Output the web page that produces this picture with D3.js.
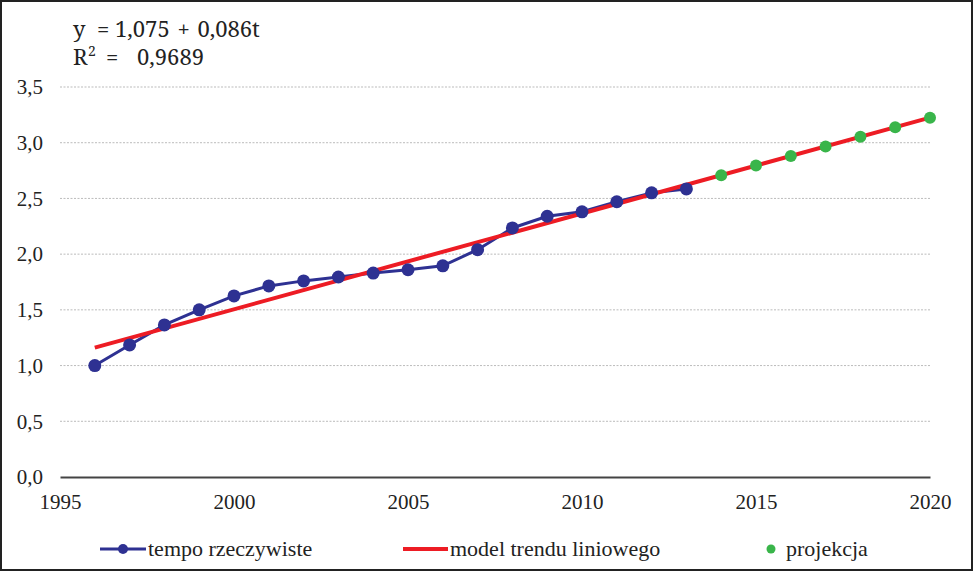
<!DOCTYPE html>
<html><head><meta charset="utf-8">
<script src="https://cdn.jsdelivr.net/npm/d3@7"></script>
<style>body{margin:0;background:#fff}svg{display:block}</style>
</head><body>
<svg id="c" width="974" height="572"></svg>
<script>
const actualYears = [1996,1997,1998,1999,2000,2001,2002,2003,2004,2005,2006,2007,2008,2009,2010,2011,2012,2013];
const actualValues = [1.00,1.185,1.365,1.50,1.625,1.715,1.76,1.795,1.83,1.86,1.895,2.04,2.235,2.34,2.38,2.47,2.55,2.585];
const projYears = [2014,2015,2016,2017,2018,2019,2020];
const projValues = [2.709,2.795,2.881,2.967,3.053,3.139,3.225];
const trendYears = [1996,2020];
const trendValues = [1.161,3.225];
const xTicks = [1995,2000,2005,2010,2015,2020];
const yTicks = [0,0.5,1,1.5,2,2.5,3,3.5];
const legendLabels = ["tempo rzeczywiste","model trendu liniowego","projekcja"];

const svg = d3.select("#c");
const fmt = v => d3.format(".1f")(v).replace(".", ",");
const x = d3.scaleLinear().domain([1995,2020]).range([60,930]);
const y = d3.scaleLinear().domain([0,3.5]).range([477,87]);
const blue="#2E3192", red="#ED1C24", green="#39B54A";
const serif = "'Liberation Serif'";

svg.append("rect").attr("x",1).attr("y",1).attr("width",971).attr("height",569)
  .attr("fill","none").attr("stroke","#222").attr("stroke-width",2);

// gridlines
svg.append("g").selectAll("line").data(yTicks.filter(d=>d>0)).join("line")
  .attr("x1",x(1995)).attr("x2",x(2020)).attr("y1",d=>y(d)).attr("y2",d=>y(d))
  .attr("stroke","#bbb").attr("stroke-width",1).attr("stroke-dasharray","2,1.5");

// y axis labels
const ya = svg.append("g").attr("transform",`translate(${x(1995)},0)`)
  .call(d3.axisLeft(y).tickValues(yTicks).tickFormat(fmt).tickSize(0).tickPadding(17));
ya.select(".domain").remove();
ya.attr("font-family",null).attr("font-size",null);
ya.selectAll("text").style("font-family",serif).style("font-size","21px").attr("fill","#222");

// x axis
const xa = svg.append("g").attr("transform",`translate(0,${y(0)})`)
  .call(d3.axisBottom(x).tickValues(xTicks).tickFormat(d3.format("d")).tickSize(0).tickPadding(17));
xa.attr("font-family",null).attr("font-size",null);
xa.select(".domain").attr("stroke","#444").attr("stroke-width",2);
xa.selectAll("text").style("font-family",serif).style("font-size","21px").attr("fill","#222");

// actual line
const line = d3.line().x(d=>x(d[0])).y(d=>y(d[1]));
const actual = actualYears.map((d,i)=>[d,actualValues[i]]);
svg.append("path").datum(actual).attr("d",line).attr("fill","none")
  .attr("stroke",blue).attr("stroke-width",3);
// trend line
const trend = trendYears.map((d,i)=>[d,trendValues[i]]);
svg.append("path").datum(trend).attr("d",line).attr("fill","none")
  .attr("stroke",red).attr("stroke-width",4);
svg.append("g").selectAll("circle").data(actual).join("circle")
  .attr("cx",d=>x(d[0])).attr("cy",d=>y(d[1])).attr("r",6.5).attr("fill",blue);
const proj = projYears.map((d,i)=>[d,projValues[i]]);
svg.append("g").selectAll("circle").data(proj).join("circle")
  .attr("cx",d=>x(d[0])).attr("cy",d=>y(d[1])).attr("r",6).attr("fill",green);

// equation
const eqFont = "'Noto Serif'";
const et = (xx, yy, s, size) => svg.append("text").attr("x",xx).attr("y",yy).attr("fill","#222")
    .style("font-family",eqFont).style("font-size",size+"px").text(s);
et(73,37,"y",22);
et(97,37,"=",22);
et(115,37,"1,075 + 0,086t",22).style("word-spacing","2px");
et(73,65,"R",22);
et(88,56,"2",14);
et(106,65,"=",22);
et(137,65,"0,9689",22);

// legend
const ly = 549;
const lt = (xx, s) => svg.append("text").attr("x",xx).attr("y",ly+7).attr("fill","#222")
  .style("font-family",serif).style("font-size","22px").text(s);
svg.append("line").attr("x1",100).attr("x2",146).attr("y1",ly).attr("y2",ly).attr("stroke",blue).attr("stroke-width",3);
svg.append("circle").attr("cx",123).attr("cy",ly).attr("r",5).attr("fill",blue);
lt(148, legendLabels[0]);
svg.append("line").attr("x1",403).attr("x2",448).attr("y1",ly).attr("y2",ly).attr("stroke",red).attr("stroke-width",4);
lt(450, legendLabels[1]);
svg.append("circle").attr("cx",771).attr("cy",ly).attr("r",4.5).attr("fill",green);
lt(786, legendLabels[2]);
</script>
</body></html>
